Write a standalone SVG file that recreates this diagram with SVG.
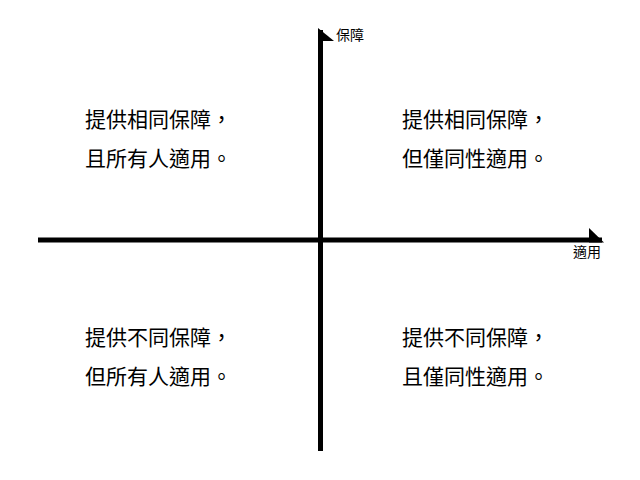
<svg xmlns="http://www.w3.org/2000/svg" width="640" height="480" viewBox="0 0 640 480">
<style>
.q{font-family:"Noto Sans CJK TC","Noto Sans CJK SC",sans-serif;font-size:21px;fill:#000}
.ax{font-family:"Noto Sans CJK TC","Noto Sans CJK SC",sans-serif;font-size:14px;fill:#000}
.line{stroke:#000;stroke-width:5;fill:none}
</style>
<rect width="640" height="480" fill="#fff"/>
<g id="connectors">
<line class="line" x1="320.5" y1="451" x2="320.5" y2="30"/>
<polygon points="318,28 334,41 318,41" fill="#000"/>
<line class="line" x1="38" y1="240" x2="602" y2="240"/>
<polygon points="589,228 604,242.5 589,242.5" fill="#000"/>
</g>
<g id="axis-y"><text class="ax" x="336" y="40">保障</text></g>
<g id="axis-x"><text class="ax" x="573" y="257">適用</text></g>
<g id="q1"><text class="q" x="85" y="127">提供相同保障，</text><text class="q" x="85" y="166">且所有人適用。</text></g>
<g id="q2"><text class="q" x="402" y="127">提供相同保障，</text><text class="q" x="402" y="166">但僅同性適用。</text></g>
<g id="q3"><text class="q" x="85" y="345">提供不同保障，</text><text class="q" x="85" y="384">但所有人適用。</text></g>
<g id="q4"><text class="q" x="402" y="345">提供不同保障，</text><text class="q" x="402" y="384">且僅同性適用。</text></g>
</svg>
